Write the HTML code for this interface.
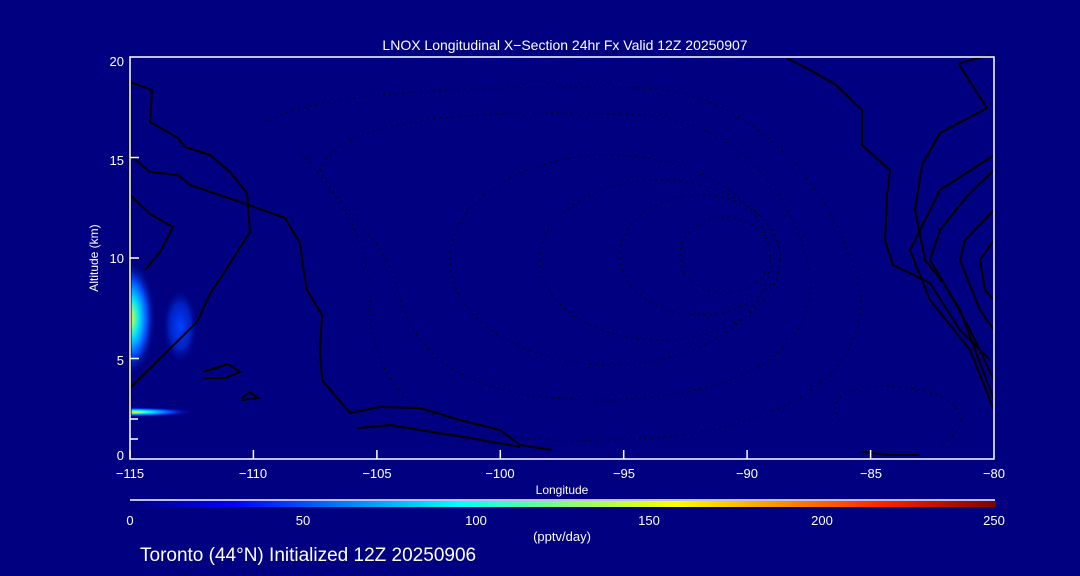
<!DOCTYPE html>
<html><head><style>
html,body{margin:0;padding:0;background:#000080;}
svg{display:block}
text{font-family:"Liberation Sans",sans-serif;fill:#fff}
</style></head><body>
<svg width="1080" height="576" viewBox="0 0 1080 576" xmlns="http://www.w3.org/2000/svg">
<defs>
<clipPath id="pc"><rect x="130" y="57" width="864" height="402"/></clipPath>
<linearGradient id="cb" x1="0" x2="1" y1="0" y2="0">
<stop offset="0" stop-color="#000080"/>
<stop offset="0.12" stop-color="#0000ff"/>
<stop offset="0.38" stop-color="#00ffff"/>
<stop offset="0.5" stop-color="#80ff80"/>
<stop offset="0.63" stop-color="#ffff00"/>
<stop offset="0.87" stop-color="#ff2000"/>
<stop offset="1" stop-color="#800000"/>
</linearGradient>
<radialGradient id="b1" cx="0.5" cy="0.5" r="0.5">
<stop offset="0" stop-color="#ffe000"/>
<stop offset="0.15" stop-color="#80ff80"/>
<stop offset="0.35" stop-color="#00e0ff"/>
<stop offset="0.65" stop-color="#0050ff"/>
<stop offset="1" stop-color="#000080" stop-opacity="0"/>
</radialGradient>
<radialGradient id="b2" cx="0.5" cy="0.45" r="0.5">
<stop offset="0" stop-color="#0040ff"/>
<stop offset="0.6" stop-color="#0020c0"/>
<stop offset="1" stop-color="#000080" stop-opacity="0"/>
</radialGradient>
<radialGradient id="b3" cx="0.5" cy="0.5" r="0.5">
<stop offset="0" stop-color="#ff4000"/>
<stop offset="0.1" stop-color="#ffff00"/>
<stop offset="0.3" stop-color="#00ffff"/>
<stop offset="0.65" stop-color="#0040ff"/>
<stop offset="1" stop-color="#000080" stop-opacity="0"/>
</radialGradient>
</defs>
<rect width="1080" height="576" fill="#000080"/>
<g clip-path="url(#pc)">
<ellipse cx="130" cy="318" rx="26" ry="58" fill="url(#b1)"/>
<ellipse cx="180" cy="330" rx="18" ry="38" fill="url(#b2)"/>
<ellipse cx="130" cy="412" rx="65" ry="5" fill="url(#b3)"/>
<g fill="none" stroke="#000" stroke-width="1.2" stroke-dasharray="1.2 5">
<path d="M265,125 C300,90 500,85 640,88 C760,90 840,200 860,290 C870,380 770,440 600,440 C420,445 370,390 370,300 C370,230 330,190 300,150"/>
<path d="M320,170 C340,110 520,110 640,115 C740,120 800,200 810,280 C815,360 720,400 600,400 C470,400 420,360 400,300 C390,240 340,210 320,170"/>
<ellipse cx="610" cy="260" rx="160" ry="105"/>
<ellipse cx="660" cy="260" rx="120" ry="80"/>
<ellipse cx="700" cy="255" rx="80" ry="60"/>
<ellipse cx="725" cy="255" rx="45" ry="38"/>
<path d="M840,420 C820,390 870,380 920,390 C970,400 970,430 940,445"/>
</g>
</g>
<g fill="none" stroke="#000" stroke-width="2">
<line x1="130" y1="80" x2="130" y2="415" stroke-width="3"/>
<polyline points="130,82 152,90 150,122 178,138 185,147 210,155 230,172 247,193 250,232 227,268 210,294 197,322 130,388"/>
<polyline points="130,155 150,172 178,175 190,185 240,202 285,218 300,243 303,268 307,290 322,315 320,350 322,380 350,413 380,407 420,408 460,420 500,430 520,445 552,450"/>
<polyline points="130,195 150,214 173,227 160,252 145,270"/>
<polyline points="203,372 228,364 240,372 225,378 203,378 z"/>
<polyline points="242,398 250,392 258,398 242,400 z"/>
<polyline points="358,428 390,425 420,430 470,438 520,447"/>
<polyline points="787,58 810,70 836,85 862,110 862,145 890,170 887,195 885,240 893,265 930,283 960,330 990,360"/>
<polyline points="960,63 990,55"/>
<polyline points="958,63 987,108 940,133 922,165 915,210 925,260 945,285 970,330 994,380"/>
<polyline points="994,155 940,190 910,250 930,300 970,350 994,410"/>
<polyline points="994,170 968,195 940,230 930,260 960,310 994,400"/>
<polyline points="994,210 965,240 960,260 980,310 994,330"/>
<polyline points="994,240 980,260 985,290 994,300"/>
<polyline points="862,452 890,455 920,455"/>
</g>
<rect x="130" y="57" width="864" height="402" fill="none" stroke="#fff" stroke-width="1.5"/>
<g stroke="#fff" stroke-width="1.5">
<line x1="130" y1="459" x2="130" y2="450"/><line x1="253.4" y1="459" x2="253.4" y2="450"/><line x1="376.9" y1="459" x2="376.9" y2="450"/><line x1="500.3" y1="459" x2="500.3" y2="450"/><line x1="623.7" y1="459" x2="623.7" y2="450"/><line x1="747.1" y1="459" x2="747.1" y2="450"/><line x1="870.6" y1="459" x2="870.6" y2="450"/>
<line x1="130" y1="258" x2="139" y2="258"/><line x1="130" y1="157.5" x2="139" y2="157.5"/><line x1="130" y1="358.5" x2="139" y2="358.5"/>
<line x1="130" y1="419" x2="138" y2="419"/><line x1="130" y1="439" x2="138" y2="439"/>
</g>
<g font-size="13" text-anchor="middle">
<text x="130" y="478">−115</text><text x="253" y="478">−110</text><text x="377" y="478">−105</text><text x="500" y="478">−100</text><text x="624" y="478">−95</text><text x="747" y="478">−90</text><text x="871" y="478">−85</text><text x="994" y="478">−80</text>
</g>
<g font-size="13" text-anchor="end">
<text x="124" y="66">20</text><text x="124" y="165">15</text><text x="124" y="263">10</text><text x="124" y="365">5</text><text x="124" y="460">0</text>
</g>
<text x="98" y="258" font-size="12" text-anchor="middle" transform="rotate(-90 98 258)">Altitude (km)</text>
<text x="562" y="494" font-size="12" text-anchor="middle">Longitude</text>
<text x="565" y="50" font-size="14" text-anchor="middle">LNOX Longitudinal X−Section 24hr  Fx Valid 12Z 20250907</text>
<line x1="130" y1="500" x2="995" y2="500" stroke="#fff" stroke-width="1.5"/>
<rect x="130" y="501" width="866" height="6" fill="url(#cb)"/>
<g font-size="13" text-anchor="middle">
<text x="130" y="525">0</text><text x="303" y="525">50</text><text x="476" y="525">100</text><text x="649" y="525">150</text><text x="822" y="525">200</text><text x="994" y="525">250</text>
<text x="562" y="541">(pptv/day)</text>
</g>
<text x="140" y="561" font-size="19">Toronto (44°N) Initialized 12Z 20250906</text>
</svg>
</body></html>
